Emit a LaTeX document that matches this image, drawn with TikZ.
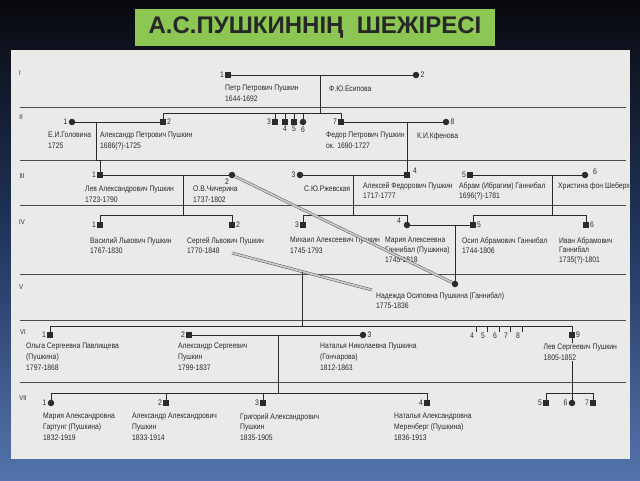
\documentclass[tikz,border=0pt]{standalone}
\usepackage{fontspec}
\setmainfont{Liberation Sans}
\newfontfamily\tf[FakeStretch=0.85]{Liberation Sans}
\newfontfamily\ttlfont{Liberation Sans}
\usetikzlibrary{calc}
\definecolor{ink}{HTML}{2B2B2B}
\definecolor{paper}{HTML}{EAEAE8}
\definecolor{ttlgreen}{HTML}{8CC653}
\definecolor{bgtop}{HTML}{08090D}
\definecolor{bgmid}{HTML}{22365E}
\definecolor{bgbot}{HTML}{5474AC}
\begin{document}
\begin{tikzpicture}[x=1pt,y=-1pt,
  sq/.style={rectangle,fill=ink,minimum size=5.5pt,inner sep=0pt},
  cir/.style={circle,fill=ink,minimum size=6.5pt,inner sep=0pt},
  nl/.style={font=\tf\fontsize{8}{9}\selectfont,text=ink,inner sep=1pt},
  tx/.style={font=\tf\fontsize{8}{10.8}\selectfont,text=ink,inner sep=0pt,anchor=north west,align=left},
  txb/.style={tx,font=\tf\fontsize{8}{9.8}\selectfont},
  rn/.style={font=\tf\fontsize{7}{8}\selectfont,text=ink,inner sep=0pt},
  ln/.style={draw=ink,line width=0.6pt},
  sep/.style={draw=ink!85,line width=1pt},
  dbl/.style={draw=ink!75,line width=0.5pt,double=ink!25,double distance=1.8pt},
]
\useasboundingbox (0,0) rectangle (640,480);
\shade[top color=bgtop,bottom color=bgbot,middle color=bgmid] (0,0) rectangle (640,480);
% title
\fill[ttlgreen] (135,9) rectangle (495,46);
\node[font=\ttlfont\bfseries\fontsize{24}{26}\selectfont,text=ink!90!black,inner sep=0pt] (title) at (315,27.5) {А.С.ПУШКИННІҢ\ \ ШЕЖІРЕСІ};
% paper
\fill[paper] (11,50) rectangle (630,459);
% separators
\foreach \yy in {107,160,205,274,320,382} \draw[sep] (20,\yy) -- (626,\yy);
% roman numerals
\node[rn] (r1) at (20,73) {I};
\node[rn] (r2) at (21,117) {II};
\node[rn] (r3) at (22,176) {III};
\node[rn] (r4) at (22,222) {IV};
\node[rn] (r5) at (21,287) {V};
\node[rn] (r6) at (23,332) {VI};
\node[rn] (r7) at (23,398) {VII};

% ---------- generation I
\node[sq,label={[nl]left:1}] (p1) at (228,75) {};
\node[cir,label={[nl]right:2}] (p2) at (416,75) {};
\draw[ln] (p1) -- (p2);
\coordinate (m1) at (320,75);
\coordinate (b1) at (320,113);
\draw[ln] (m1) -- (b1);
\node[tx] (t1) at (225,85) {Петр Петрович Пушкин\\1644-1692};
\node[tx] (t2) at (329,86) {Ф.Ю.Есипова};

% ---------- generation II
\node[cir,label={[nl]left:1}] (e1) at (72,122) {};
\node[sq,label={[nl]right:2}] (a2) at (163,122) {};
\node[sq,label={[nl]left:3}] (s3) at (275,122) {};
\node[sq,label={[nl]below:4}] (s4) at (285,122) {};
\node[sq,label={[nl]below:5}] (s5) at (294,122) {};
\node[cir,label={[nl]below:6}] (s6) at (303,122) {};
\node[sq,label={[nl]left:7}] (f7) at (341,122) {};
\node[cir,label={[nl]right:8}] (k8) at (446,122) {};
\draw[ln] (a2) -- (a2|-b1) -- (f7|-b1) -- (f7);
\foreach \n in {s3,s4,s5,s6} \draw[ln] (\n) -- (\n|-b1);
\draw[ln] (e1) -- (a2);
\draw[ln] (f7) -- (k8);
\node[tx] (t3) at (48,132) {Е.И.Головина\\1725};
\node[tx] (t4) at (100,132) {Александр Петрович Пушкин\\1686(?)-1725};
\node[tx] (t5) at (326,132) {Федор Петрович Пушкин\\ок. 1690-1727};
\node[tx] (t6) at (417,132) {К.И.Кфенова};

% ---------- generation III
\node[sq,label={[nl]left:1}] (l1) at (100,175) {};
\node[cir] (o2) at (232,175) {};
\node[nl] (o2n) at (227,182) {2};
\node[cir,label={[nl]left:3}] (r3n) at (300,175) {};
\node[sq] (al4) at (407,175) {};
\node[nl] (al4n) at (415,171) {4};
\node[sq,label={[nl]left:5}] (ab5) at (470,175) {};
\node[cir] (h6) at (585,175) {};
\node[nl] (h6n) at (595,172) {6};
\draw[ln] (l1) -- (o2);
\draw[ln] (r3n) -- (al4);
\draw[ln] (ab5) -- (h6);
% descent II -> III
\coordinate (d1) at (96,122);
\coordinate (d2) at (96,160);
\draw[ln] (d1) -- (d2) -- (l1|-d2) -- (l1);
\draw[ln] (f7-|al4) -- (al4);
\coordinate (m3a) at (183,175);
\coordinate (m3b) at (353,175);
\coordinate (m3c) at (552,175);
\node[tx] (t7) at (85,186) {Лев Александрович Пушкин\\1723-1790};
\node[tx] (t8) at (193,186) {О.В.Чичерина\\1737-1802};
\node[tx] (t9) at (304,186) {С.Ю.Ржевская};
\node[tx] (t10) at (363,182) {Алексей Федорович Пушкин\\1717-1777};
\node[tx] (t11) at (459,182) {Абрам (Ибрагим) Ганнибал\\1696(?)-1781};
\node[tx] (t12) at (558,182) {Христина фон Шеберх};

% ---------- generation IV
\coordinate (b4) at (0,215);
\node[sq,label={[nl]left:1}] (v1) at (100,225) {};
\node[sq,label={[nl]right:2}] (sl2) at (232,225) {};
\node[sq,label={[nl]left:3}] (m3) at (303,225) {};
\node[cir] (ma4) at (407,225) {};
\node[nl] (ma4n) at (399,221) {4};
\node[sq,label={[nl]right:5}] (os5) at (473,225) {};
\node[sq,label={[nl]right:6}] (iv6) at (586,225) {};
\draw[ln] (v1) -- (v1|-b4) -- (sl2|-b4) -- (sl2);
\draw[ln] (m3) -- (m3|-b4) -- (ma4|-b4) -- (ma4);
\draw[ln] (os5) -- (os5|-b4) -- (iv6|-b4) -- (iv6);
\draw[ln] (m3a) -- (m3a|-b4);
\draw[ln] (m3b) -- (m3b|-b4);
\draw[ln] (m3c) -- (m3c|-b4);
\draw[ln] (ma4) -- (os5);
\node[tx] (t13) at (90,237) {Василий Львович Пушкин\\1767-1830};
\node[tx] (t14) at (187,237) {Сергей Львович Пушкин\\1770-1848};
\node[tx] (t15) at (290,237) {Михаил Алексеевич Пушкин\\1745-1793};
\node[txb] (t16) at (385,237) {Мария Алексеевна\\Ганнибал (Пушкина)\\1745-1818};
\node[tx] (t17) at (462,237) {Осип Абрамович Ганнибал\\1744-1806};
\node[txb] (t18) at (559,237) {Иван Абрамович\\Ганнибал\\1735(?)-1801};

% ---------- generation V
\node[cir] (nad) at (455,284) {};
\draw[ln] (ma4-|nad) -- (nad);
\node[tx] (t19) at (376,292) {Надежда Осиповна Пушкина (Ганнибал)\\1775-1836};
\coordinate (sx) at (232,253);
\coordinate (nx) at (372,290);
\draw[dbl] (o2) -- (nad);
\draw[dbl] (sx) -- (nx);
\coordinate (mv) at ($(sx)!0.5!(nx)$);

% ---------- generation VI
\coordinate (b6) at (0,326);
\node[sq,label={[nl]left:1}] (ol1) at (50,335) {};
\node[sq,label={[nl]left:2}] (as2) at (189,335) {};
\node[cir,label={[nl]right:3}] (nat3) at (363,335) {};
\node[sq,label={[nl]right:9}] (le9) at (572,335) {};
\draw[ln] (ol1) -- (ol1|-b6) -- (le9|-b6) -- (le9);
\draw[ln] (as2) -- (nat3);
\draw[ln] (mv) -- (mv|-b6);
\foreach \xx/\k in {476/4,487/5,499/6,510/7,522/8}{
  \coordinate (tk\k) at (\xx,332);
  \draw[ln,line width=0.5pt] (tk\k) -- (tk\k|-b6);
  \node[nl] (tn\k) at (\xx-4,336) {\k};
}
\node[tx] (t20) at (26,343) {Ольга Сергеевна Павлищева\\(Пушкина)\\1797-1868};
\node[tx] (t21) at (178,343) {Александр Сергеевич\\Пушкин\\1799-1837};
\node[tx] (t22) at (320,343) {Наталья Николаевна Пушкина\\(Гончарова)\\1812-1863};

% ---------- generation VII
\coordinate (b7) at (0,393);
\coordinate (m6) at (278,335);
\node[cir,label={[nl]left:1}] (c1) at (51,403) {};
\node[sq,label={[nl]left:2}] (c2) at (166,403) {};
\node[sq,label={[nl]left:3}] (c3) at (263,403) {};
\node[sq,label={[nl]left:4}] (c4) at (427,403) {};
\draw[ln] (c1) -- (c1|-b7) -- (c4|-b7) -- (c4);
\draw[ln] (c2) -- (c2|-b7);
\draw[ln] (c3) -- (c3|-b7);
\draw[ln] (m6) -- (m6|-b7);
\node[sq,label={[nl]left:5}] (lc5) at (546,403) {};
\node[cir,label={[nl]left:6}] (lc6) at (572,403) {};
\node[sq,label={[nl]left:7}] (lc7) at (593,403) {};
\draw[ln] (lc5) -- (lc5|-b7) -- (lc7|-b7) -- (lc7);
\draw[ln] (le9) -- (lc6);
\node[tx,fill=paper,inner sep=0.5pt] (t23) at (543,343) {Лев Сергеевич Пушкин\\1805-1852};
\node[tx] (t24) at (43,413) {Мария Александровна\\Гартунг (Пушкина)\\1832-1919};
\node[tx] (t25) at (132,413) {Александр Александрович\\Пушкин\\1833-1914};
\node[tx] (t26) at (240,413) {Григорий Александрович\\Пушкин\\1835-1905};
\node[tx] (t27) at (394,413) {Наталья Александровна\\Меренберг (Пушкина)\\1836-1913};
\end{tikzpicture}
\end{document}
